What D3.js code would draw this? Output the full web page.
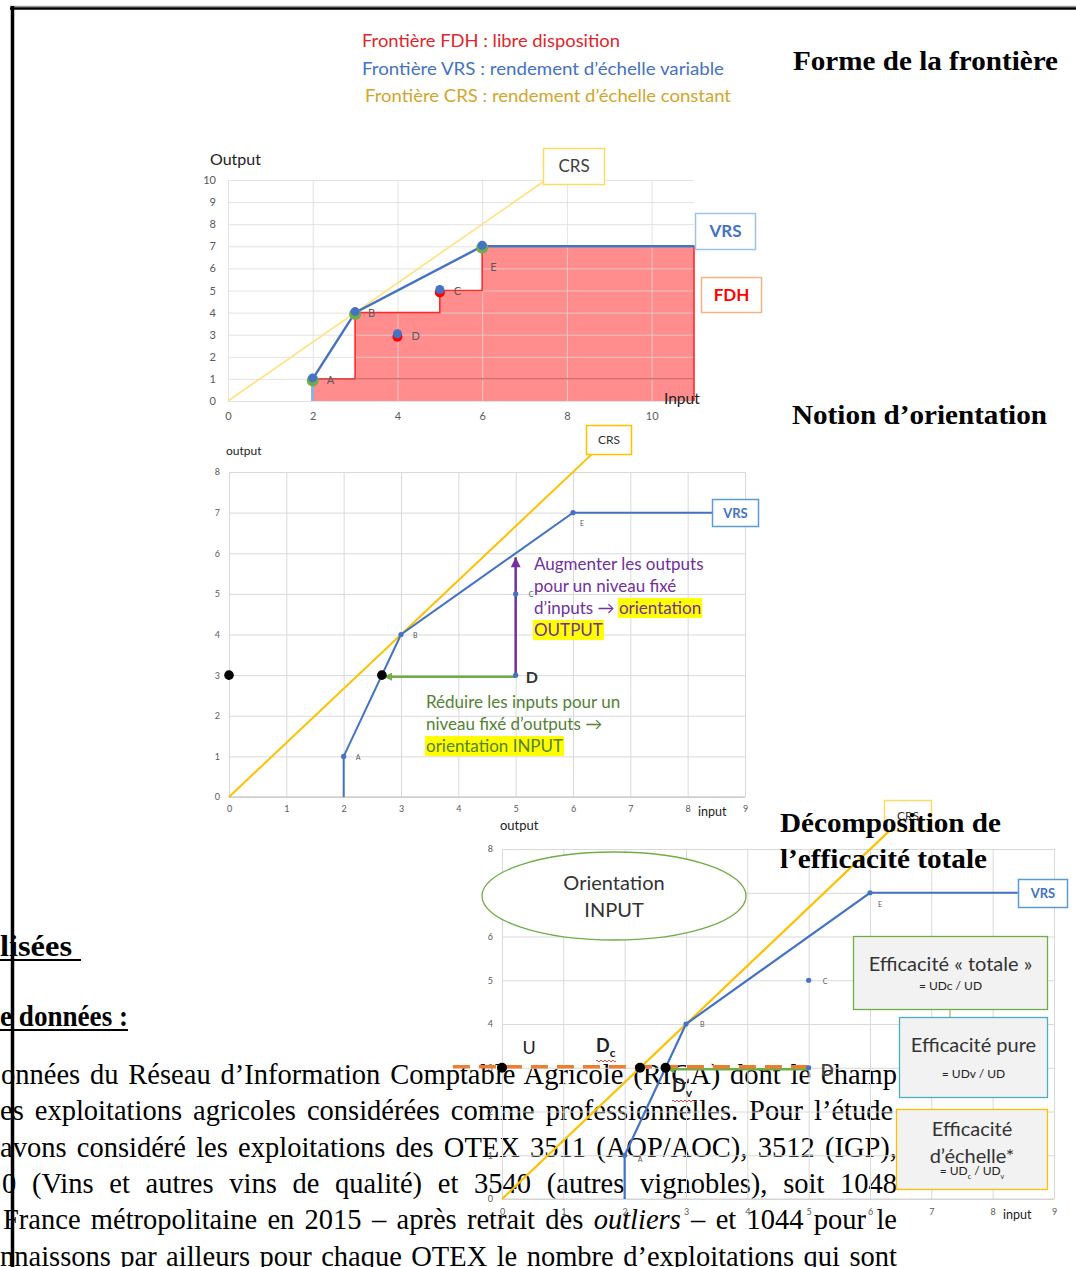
<!DOCTYPE html>
<html><head><meta charset="utf-8">
<script src="https://cdn.jsdelivr.net/npm/d3@7"></script>
<style>body{margin:0;background:#fff}svg{display:block}</style>
</head><body><svg id="c" width="1076" height="1267"></svg>
<script>
// ---------- data ----------
const legendLines = ["Frontière FDH : libre disposition", "Frontière VRS : rendement d’échelle variable", "Frontière CRS : rendement d’échelle constant"];
const legendColors = ["#e0262b", "#4472c4", "#d4a52a"];
const sectionTitles = ["Forme de la frontière", "Notion d’orientation", "Décomposition de", "l’efficacité totale"];
const dmuNames = ["A", "B", "C", "D", "E"];
const dmuInputs = [2, 3, 5, 4, 6];
const dmuOutputs = [1, 4, 5, 3, 7];
const dmuInputsOrient = [2, 3, 5, 5, 6];
const dmuOutputsOrient = [1, 4, 5, 3, 7];
const fdhInputs = [2, 2, 3, 3, 5, 5, 6, 6, 11, 11];
const fdhOutputs = [0, 1, 1, 4, 4, 5, 5, 7, 7, 0];
const vrsInputs1 = [2, 2, 3, 6, 11];
const vrsInputs2 = [2, 2, 3, 6, 8.43];
const vrsInputs3 = [2, 2, 3, 6, 8.41];
const vrsOutputs = [0, 1, 4, 7, 7];
const crsInputs1 = [0, 7.5], crsOutputs1 = [0, 10];
const crsInputs2 = [0, 6.33], crsOutputs2 = [0, 8.44];
const crsInputs3 = [0, 6.38], crsOutputs3 = [0, 8.5];
const xTicks1 = [0, 2, 4, 6, 8, 10];
const yTicks1 = [0, 1, 2, 3, 4, 5, 6, 7, 8, 9, 10];
const xTicks23 = [0, 1, 2, 3, 4, 5, 6, 7, 8, 9];
const yTicks23 = [0, 1, 2, 3, 4, 5, 6, 7, 8];
const projNames = ["U", "Dc", "Dv"];
const projInputs = [0, 2.25, 2.667];
const projOutputs = [3, 3, 3];
const outputArrowTop = 5.9;
const dashedStart = -0.8;
const bodyLines = [
  "onnées du Réseau d’Information Comptable Agricole (RICA) dont le champ",
  "es exploitations agricoles considérées comme professionnelles.  Pour l’étude",
  "avons considéré les exploitations des OTEX 3511 (AOP/AOC), 3512 (IGP),",
  "0 (Vins et autres vins de qualité) et 3540 (autres vignobles), soit 1048",
  ["France métropolitaine en 2015 – après retrait des ", "outliers", " – et 1044 pour le"],
  "nnaissons par ailleurs pour chaque OTEX le nombre d’exploitations qui sont"
];

// ---------- setup ----------
const svg = d3.select("#c");
const sans = "Lato, 'Open Sans', sans-serif";
const serif = "'Liberation Serif', 'Times New Roman', serif";
const defs = svg.append("defs");
function marker(id, color, w, h) {
  defs.append("marker").attr("id", id).attr("viewBox", "0 0 10 10").attr("refX", 10).attr("refY", 5)
    .attr("markerWidth", w).attr("markerHeight", h).attr("markerUnits", "userSpaceOnUse").attr("orient", "auto")
    .append("path").attr("d", "M0,0 L10,5 L0,10 z").attr("fill", color);
}
marker("arrP", "#7030a0", 12, 10);
marker("arrG", "#70ad47", 9, 8);
marker("arrG3", "#70ad47", 9, 8);

function axes(g, x, y, xt, yt, fs, padX, padY) {
  const h = y.range()[0] - y.range()[1];
  const w = x.range()[1] - x.range()[0];
  const ax = g.append("g").attr("transform", `translate(0,${y.range()[0]})`)
    .call(d3.axisBottom(x).tickValues(xt).tickSize(-h).tickPadding(padY).tickFormat(d3.format("d")));
  const ay = g.append("g").attr("transform", `translate(${x.range()[0]},0)`)
    .call(d3.axisLeft(y).tickValues(yt).tickSize(-w).tickPadding(padX).tickFormat(d3.format("d")));
  [ax, ay].forEach(a => {
    a.select(".domain").remove();
    a.selectAll("line").attr("stroke", "#d9d9d9").attr("stroke-width", 1);
    a.selectAll("text").attr("fill", "#595959").style("font-family", sans).style("font-size", fs + "px");
  });
  return [ax, ay];
}
function lineOf(x, y) { return d3.line().x(d => x(d[0])).y(d => y(d[1])); }
function boxLabel(g, x0, y0, w, h, stroke, text, color, fs, weight) {
  g.append("rect").attr("x", x0).attr("y", y0).attr("width", w).attr("height", h).attr("fill", "#fff").attr("stroke", stroke).attr("stroke-width", 1.5);
  g.append("text").attr("x", x0 + w / 2).attr("y", y0 + h / 2).attr("dy", "0.35em").attr("text-anchor", "middle")
    .style("font-family", sans).style("font-size", fs + "px").style("font-weight", weight).attr("fill", color).text(text);
}
function richLine(g, x, y, segs, size, color) {
  const t = g.append("text").attr("x", x).attr("y", y).style("font-family", sans).style("font-size", size + "px").attr("fill", color);
  segs.forEach(s => { const sp = t.append("tspan").text(s.t); if (s.fill) sp.attr("fill", s.fill); s.node = sp.node(); });
  segs.forEach(s => {
    if (s.hl) {
      const b = s.node.getBBox();
      g.insert("rect", () => t.node()).attr("x", b.x - 1).attr("y", b.y + 1).attr("width", b.width + 2).attr("height", b.height - 1).attr("fill", "#ffff00");
    }
  });
  return t;
}

// ---------- frame ----------
svg.append("line").attr("x1", 10).attr("x2", 1076).attr("y1", 6.5).attr("y2", 6.5).attr("stroke", "#9a9a9a").attr("stroke-width", 1.5);
svg.append("line").attr("x1", 10).attr("x2", 1076).attr("y1", 8.5).attr("y2", 8.5).attr("stroke", "#000").attr("stroke-width", 2.5);
svg.append("line").attr("x1", 12.5).attr("x2", 12.5).attr("y1", 6).attr("y2", 1267).attr("stroke", "#000").attr("stroke-width", 3.5);

// ---------- legend ----------
const legW = [258, 362, 366];
const legX = [362, 362, 365];
legendLines.forEach((s, i) => {
  svg.append("text").attr("x", legX[i]).attr("y", 47 + i * 27.5).attr("textLength", legW[i]).attr("lengthAdjust", "spacingAndGlyphs")
    .style("font-family", sans).style("font-size", "16.5px").attr("fill", legendColors[i]).text(s);
});

// ---------- chart 1 ----------
const x1 = d3.scaleLinear().domain([0, 11]).range([228, 694]);
const y1 = d3.scaleLinear().domain([0, 10]).range([401, 180]);
const g1 = svg.append("g");
g1.append("path").datum(d3.zip(fdhInputs, fdhOutputs)).attr("d", lineOf(x1, y1)).attr("fill", "#ff8d8d").attr("stroke", "none");
axes(g1, x1, y1, xTicks1, yTicks1, 11, 12, 11);
g1.selectAll(".tick line").attr("stroke-opacity", 0.75);
g1.append("path").datum(d3.zip(fdhInputs, fdhOutputs)).attr("d", lineOf(x1, y1)).attr("fill", "none").attr("stroke", "#ff2a2a").attr("stroke-width", 1.6);
g1.append("line").attr("x1", x1(2)).attr("x2", x1(11)).attr("y1", y1(1)).attr("y2", y1(1)).attr("stroke", "#d65a5a").attr("stroke-width", 1.2);
g1.append("path").datum(d3.zip(crsInputs1, crsOutputs1)).attr("d", lineOf(x1, y1)).attr("fill", "none").attr("stroke", "#ffe27a").attr("stroke-width", 1.6);
g1.append("path").datum(d3.zip(vrsInputs1, vrsOutputs)).attr("d", lineOf(x1, y1)).attr("fill", "none").attr("stroke", "#4472c4").attr("stroke-width", 2.4);
g1.append("line").attr("x1", x1(2)).attr("x2", x1(2)).attr("y1", y1(0)).attr("y2", y1(1)).attr("stroke", "#8fb0e6").attr("stroke-width", 2.4);
const pts1 = dmuNames.map((n, i) => ({ n, x: dmuInputs[i], y: dmuOutputs[i] }));
const eff1 = ["A", "B", "E"];
g1.selectAll("circle.g").data(pts1.filter(p => eff1.includes(p.n))).join("circle").attr("cx", p => x1(p.x)).attr("cy", p => y1(p.y) + 1.5).attr("r", 6).attr("fill", "#70ad47");
g1.selectAll("circle.r").data(pts1.filter(p => !eff1.includes(p.n))).join("circle").attr("cx", p => x1(p.x)).attr("cy", p => y1(p.y) + 2).attr("r", 5).attr("fill", "#ff0000");
g1.selectAll("circle.b").data(pts1).join("circle").attr("cx", p => x1(p.x)).attr("cy", p => y1(p.y) - 1).attr("r", 4.5).attr("fill", "#4472c4");
const lab1 = { A: [14, 1], B: [13, 1], C: [14, 1], D: [14, 1], E: [8, 21] };
g1.selectAll("text.pl").data(pts1).join("text").attr("x", p => x1(p.x) + lab1[p.n][0]).attr("y", p => y1(p.y) + lab1[p.n][1]).attr("dy", "0.35em")
  .style("font-family", sans).style("font-size", "11px").attr("fill", "#595959").text(p => p.n);
g1.append("text").attr("x", 210).attr("y", 165).style("font-family", sans).style("font-size", "16px").attr("fill", "#222").text("Output");
g1.append("text").attr("x", 664).attr("y", 404).style("font-family", sans).style("font-size", "15.5px").attr("fill", "#222").text("Input");
boxLabel(g1, 543.5, 148.5, 61, 36, "#ffd966", "CRS", "#404040", 17, "normal");
boxLabel(g1, 695.5, 213.5, 60, 36, "#9dc3e6", "VRS", "#4472c4", 17, "bold");
boxLabel(g1, 701.5, 277.5, 60, 35, "#f4b183", "FDH", "#ff0000", 17, "bold");

// ---------- chart 2 ----------
const x2 = d3.scaleLinear().domain([0, 9]).range([229, 745]);
const y2 = d3.scaleLinear().domain([0, 8]).range([797, 472]);
const g2 = svg.append("g");
axes(g2, x2, y2, xTicks23, yTicks23, 9, 9, 9);
g2.append("line").attr("x1", x2(0)).attr("x2", x2(9)).attr("y1", y2(0)).attr("y2", y2(0)).attr("stroke", "#bfbfbf");
g2.append("path").datum(d3.zip(crsInputs2, crsOutputs2)).attr("d", lineOf(x2, y2)).attr("fill", "none").attr("stroke", "#ffc000").attr("stroke-width", 2);
g2.append("path").datum(d3.zip(vrsInputs2, vrsOutputs)).attr("d", lineOf(x2, y2)).attr("fill", "none").attr("stroke", "#4472c4").attr("stroke-width", 2);
const pts2 = dmuNames.map((n, i) => ({ n, x: dmuInputsOrient[i], y: dmuOutputsOrient[i] }));
const D2 = pts2.find(p => p.n === "D");
g2.append("line").attr("x1", x2(D2.x)).attr("x2", x2(projInputs[2]) + 2).attr("y1", y2(D2.y) + 1.5).attr("y2", y2(D2.y) + 1.5)
  .attr("stroke", "#70ad47").attr("stroke-width", 2.5).attr("marker-end", "url(#arrG)");
g2.append("line").attr("x1", x2(D2.x)).attr("x2", x2(D2.x)).attr("y1", y2(D2.y)).attr("y2", y2(outputArrowTop))
  .attr("stroke", "#7030a0").attr("stroke-width", 2.5).attr("marker-end", "url(#arrP)");
g2.selectAll("circle.b").data(pts2).join("circle").attr("cx", p => x2(p.x)).attr("cy", p => y2(p.y)).attr("r", 2.6).attr("fill", "#4472c4");
g2.selectAll("circle.k").data([0, 2]).join("circle").attr("cx", i => x2(projInputs[i])).attr("cy", i => y2(projOutputs[i])).attr("r", 4.8).attr("fill", "#000");
const lab2 = { A: [12, 1], B: [12, 1], C: [13, 1], E: [7, 11] };
g2.selectAll("text.pl").data(pts2.filter(p => p.n !== "D")).join("text").attr("x", p => x2(p.x) + lab2[p.n][0]).attr("y", p => y2(p.y) + lab2[p.n][1]).attr("dy", "0.35em")
  .style("font-family", sans).style("font-size", "7px").attr("fill", "#595959").text(p => p.n);
g2.append("text").attr("x", x2(D2.x) + 10).attr("y", y2(D2.y) + 2).attr("dy", "0.35em").style("font-family", sans).style("font-size", "16px").style("font-weight", "bold").attr("fill", "#333").text("D");
g2.append("text").attr("x", 226).attr("y", 455).style("font-family", sans).style("font-size", "12px").attr("fill", "#222").text("output");
g2.append("text").attr("x", 698).attr("y", 816).style("font-family", sans).style("font-size", "12.5px").attr("fill", "#222").text("input");
boxLabel(g2, 586.5, 425.5, 45, 29, "#ffc000", "CRS", "#333", 12, "normal");
boxLabel(g2, 712.5, 499.5, 46, 27, "#5b9bd5", "VRS", "#4472c4", 13, "bold");
const purple = "#7030a0";
richLine(g2, 534, 570, [{ t: "Augmenter les outputs" }], 17, purple);
richLine(g2, 534, 592, [{ t: "pour un niveau fixé" }], 17, purple);
richLine(g2, 534, 614, [{ t: "d’inputs → " }, { t: "orientation", hl: true }], 17, purple);
richLine(g2, 534, 636, [{ t: "OUTPUT", hl: true }], 17, purple);
const green = "#548235";
richLine(g2, 426, 708, [{ t: "Réduire les inputs pour un" }], 17, green);
richLine(g2, 426, 730, [{ t: "niveau fixé d’outputs → " }], 17, green);
richLine(g2, 426, 752, [{ t: "orientation INPUT", hl: true }], 17, green);

// ---------- body text (under chart 3) ----------
const gt = svg.append("g");
function heading(x, y, s, w, ulEnd) {
  gt.append("text").attr("x", x).attr("y", y).attr("textLength", w).attr("lengthAdjust", "spacingAndGlyphs")
    .style("font-family", serif).style("font-size", "29px").style("font-weight", "bold").attr("fill", "#000").text(s);
  gt.append("line").attr("x1", 0).attr("x2", ulEnd).attr("y1", y + 4).attr("y2", y + 4).attr("stroke", "#000").attr("stroke-width", 2);
}
heading(0, 956, "lisées", 72, 81);
heading(0, 1026, "e données :", 128, 128);
const bodyStart = [1, 0, 0, 2, 3, 0];
bodyLines.forEach((ln, i) => {
  const t = gt.append("text").attr("x", bodyStart[i]).attr("y", 1084 + i * 36.3)
    .style("font-family", serif).style("font-size", "28.5px").attr("fill", "#000");
  let full;
  if (Array.isArray(ln)) { full = ln.join(""); ln.forEach((s, j) => { const sp = t.append("tspan").text(s); if (j === 1) sp.style("font-style", "italic"); }); }
  else { full = ln; t.text(ln); }
  const nat = t.node().getComputedTextLength();
  const spaces = (full.match(/ /g) || []).length;
  const target = 897 - bodyStart[i];
  t.style("word-spacing", ((target - nat) / spaces) + "px");
});

// ---------- chart 3 ----------
const x3 = d3.scaleLinear().domain([0, 9]).range([502, 1054]);
const y3 = d3.scaleLinear().domain([0, 8]).range([1199, 849]);
const g3 = svg.append("g");
axes(g3, x3, y3, xTicks23, yTicks23, 9, 9, 10);
g3.append("line").attr("x1", x3(0)).attr("x2", x3(9)).attr("y1", y3(0)).attr("y2", y3(0)).attr("stroke", "#d0d0d0");
g3.append("ellipse").attr("cx", 614).attr("cy", 896).attr("rx", 132).attr("ry", 44).attr("fill", "#fff").attr("stroke", "#70ad47").attr("stroke-width", 1.3);
g3.append("text").attr("x", 614).attr("y", 890).attr("text-anchor", "middle").style("font-family", sans).style("font-size", "20px").attr("fill", "#333").text("Orientation");
g3.append("text").attr("x", 614).attr("y", 917).attr("text-anchor", "middle").style("font-family", sans).style("font-size", "20px").attr("fill", "#333").text("INPUT");
g3.append("path").datum(d3.zip(crsInputs3, crsOutputs3)).attr("d", lineOf(x3, y3)).attr("fill", "none").attr("stroke", "#ffc000").attr("stroke-width", 2.2);
g3.append("path").datum(d3.zip(vrsInputs3, vrsOutputs)).attr("d", lineOf(x3, y3)).attr("fill", "none").attr("stroke", "#4472c4").attr("stroke-width", 2.2);
const pts3 = pts2;
const D3 = pts3.find(p => p.n === "D");
g3.append("line").attr("x1", x3(D3.x)).attr("x2", x3(projInputs[2]) + 1).attr("y1", y3(D3.y) + 1.5).attr("y2", y3(D3.y) + 1.5)
  .attr("stroke", "#70ad47").attr("stroke-width", 2.5).attr("marker-end", "url(#arrG3)");
g3.append("line").attr("x1", x3(dashedStart)).attr("x2", x3(D3.x)).attr("y1", y3(D3.y) - 1).attr("y2", y3(D3.y) - 1)
  .attr("stroke", "#ed7d31").attr("stroke-width", 3.5).attr("stroke-dasharray", "17,9");
g3.selectAll("circle.b").data(pts3).join("circle").attr("cx", p => x3(p.x)).attr("cy", p => y3(p.y)).attr("r", 2.6).attr("fill", "#4472c4");
g3.selectAll("circle.k").data(projNames.map((n, i) => i)).join("circle").attr("cx", i => x3(projInputs[i])).attr("cy", i => y3(projOutputs[i])).attr("r", 5).attr("fill", "#000");
const lab3 = { A: [13, 4], B: [14, 1], C: [14, 1], E: [8, 12] };
g3.selectAll("text.pl").data(pts3.filter(p => p.n !== "D")).join("text").attr("x", p => x3(p.x) + lab3[p.n][0]).attr("y", p => y3(p.y) + lab3[p.n][1]).attr("dy", "0.35em")
  .style("font-family", sans).style("font-size", "7px").attr("fill", "#595959").text(p => p.n);
g3.append("text").attr("x", x3(D3.x) + 12).attr("y", y3(D3.y) + 2).attr("dy", "0.35em").style("font-family", sans).style("font-size", "17px").style("font-weight", "bold").attr("fill", "#444").text("D");
g3.append("text").attr("x", 529).attr("y", 1048).attr("dy", "0.35em").attr("text-anchor", "middle").style("font-family", sans).style("font-size", "18px").attr("fill", "#222").text(projNames[0]);
function subLabel(x, y, main, sub) {
  const t = g3.append("text").attr("x", x).attr("y", y).style("font-family", sans).style("font-size", "18px").style("font-weight", "bold").attr("fill", "#222");
  t.append("tspan").text(main);
  t.append("tspan").attr("dy", 5).style("font-size", "12px").text(sub);
  const b = t.node().getBBox();
  let d = `M${b.x},${b.y + b.height + 1}`;
  for (let k = b.x; k < b.x + b.width; k += 4) d += ` q1,-2 2,0 q1,2 2,0`;
  g3.append("path").attr("d", d).attr("fill", "none").attr("stroke", "#e03030").attr("stroke-width", 0.9);
}
subLabel(596, 1052, "D", "c");
subLabel(672, 1092, "D", "v");
g3.append("text").attr("x", 500).attr("y", 830).style("font-family", sans).style("font-size", "13px").attr("fill", "#222").text("output");
g3.append("text").attr("x", 1003).attr("y", 1219).style("font-family", sans).style("font-size", "12.5px").attr("fill", "#222").text("input");
boxLabel(g3, 884.5, 800.5, 47, 30, "#ffd966", "CRS", "#333", 12, "normal");
boxLabel(g3, 1018.5, 879.5, 49, 28, "#5b9bd5", "VRS", "#4472c4", 13, "bold");
g3.append("line").attr("x1", 950).attr("x2", 950).attr("y1", 1009).attr("y2", 1017).attr("stroke", "#70ad47");
function effBox(x0, y0, w, h, stroke, lines, formula) {
  g3.append("rect").attr("x", x0).attr("y", y0).attr("width", w).attr("height", h).attr("fill", "#f2f2f2").attr("stroke", stroke).attr("stroke-width", 1.3);
  const cx = x0 + w / 2;
  lines.forEach((s, i) => g3.append("text").attr("x", cx).attr("y", y0 + 34 + i * 27 - (lines.length - 1) * 8).attr("text-anchor", "middle")
    .style("font-family", sans).style("font-size", "20px").attr("fill", "#333").text(s));
  const ft = g3.append("text").attr("x", cx).attr("y", y0 + h - 20 + (lines.length - 1) * 5).attr("text-anchor", "middle")
    .style("font-family", sans).style("font-size", "12px").attr("fill", "#222");
  formula.forEach(f => { const sp = ft.append("tspan").text(f.t); if (f.sub) sp.attr("baseline-shift", "sub").style("font-size", "7px"); });
}
effBox(853.5, 936.5, 194, 73, "#70ad47", ["Efficacité « totale »"], [{ t: "= UDc / UD" }]);
effBox(899.5, 1017.5, 148, 80, "#4bacc6", ["Efficacité pure"], [{ t: "= UDv / UD" }]);
effBox(896.5, 1109.5, 151, 80, "#ffc000", ["Efficacité", "d’échelle*"], [{ t: "= UD" }, { t: "c", sub: true }, { t: " / UD" }, { t: "v", sub: true }]);

// ---------- section titles ----------
const titlePos = [[793, 70, 265], [792, 424, 255], [780, 832, 221], [780, 868, 207]];
sectionTitles.forEach((s, i) => {
  svg.append("text").attr("x", titlePos[i][0]).attr("y", titlePos[i][1]).attr("textLength", titlePos[i][2]).attr("lengthAdjust", "spacingAndGlyphs")
    .style("font-family", serif).style("font-size", "28px").style("font-weight", "bold").attr("fill", "#000").text(s);
});
</script></body></html>
